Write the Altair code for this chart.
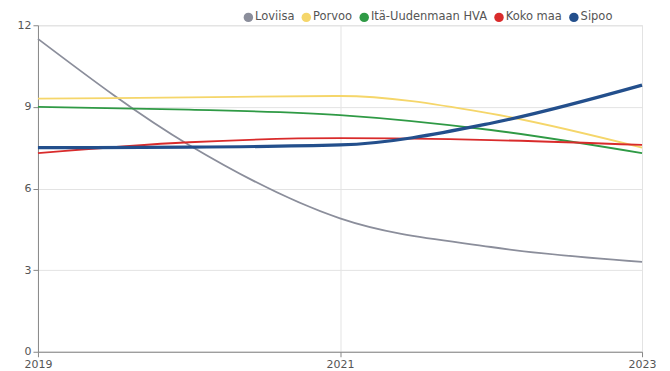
import altair as alt
import pandas as pd

years = [2019, 2020, 2021, 2022, 2023]
series = ["Loviisa", "Porvoo", "Itä-Uudenmaan HVA", "Koko maa", "Sipoo"]
loviisa = [11.5, 7.6, 4.9, 3.85, 3.3]
porvoo = [9.3, 9.35, 9.4, 8.75, 7.5]
ita_uusimaa = [9.0, 8.9, 8.7, 8.15, 7.3]
koko_maa = [7.3, 7.7, 7.85, 7.78, 7.6]
sipoo = [7.5, 7.52, 7.6, 8.4, 9.8]
colors = ["#8b8e9b", "#f5d66a", "#2f9a45", "#d92b2b", "#234f8c"]

values = [loviisa, porvoo, ita_uusimaa, koko_maa, sipoo]
rows = []
for s, vals in zip(series, values):
    for y, v in zip(years, vals):
        rows.append({"year": y, "value": v, "series": s})
df = pd.DataFrame(rows)

axis_common = dict(
    labelFont="DejaVu Sans", labelFontSize=11, labelColor="#555555",
    domainColor="#888888", tickColor="#888888", tickSize=5,
    gridColor="#e3e3e3", title=None,
)

base = alt.Chart(df)
x_enc = alt.X("year:Q", scale=alt.Scale(domain=[2019, 2023], nice=False, zero=False),
              axis=alt.Axis(values=[2019, 2021, 2023], format="d", labelFlush=False, **axis_common))
y_enc = alt.Y("value:Q", scale=alt.Scale(domain=[0, 12]),
              axis=alt.Axis(values=[0, 3, 6, 9, 12], **axis_common))
color_enc = alt.Color("series:N", scale=alt.Scale(domain=series, range=colors), legend=None)

thin_lines = base.transform_filter("datum.series != 'Sipoo'").mark_line(
    interpolate="monotone", strokeWidth=1.8
).encode(x=x_enc, y=y_enc, color=color_enc)

thick_line = base.transform_filter("datum.series == 'Sipoo'").mark_line(
    interpolate="monotone", strokeWidth=3.2
).encode(x=x_enc, y=y_enc, color=color_enc)

legend_layer = base.mark_circle(opacity=1, size=0).encode(
    x=x_enc,
    y=y_enc,
    fill=alt.Fill("series:N", scale=alt.Scale(domain=series, range=colors),
                  legend=alt.Legend(orient="none", direction="horizontal", legendX=205, legendY=-14,
                                    title=None, symbolType="circle", symbolSize=90,
                                    symbolStrokeWidth=0, symbolOpacity=1, labelOffset=1, columnPadding=6,
                                    labelFont="DejaVu Sans", labelFontSize=11.5, labelColor="#555555")),
)

chart = alt.layer(legend_layer, thin_lines, thick_line).properties(
    width=605, height=327,
    autosize=alt.AutoSizeParams(type="none"),
    padding={"left": 30, "top": 17, "right": 20, "bottom": 20},
).configure_view(stroke=None).configure(background="white")

chart.save("out.html", embed_options={"renderer": "svg", "actions": False})
